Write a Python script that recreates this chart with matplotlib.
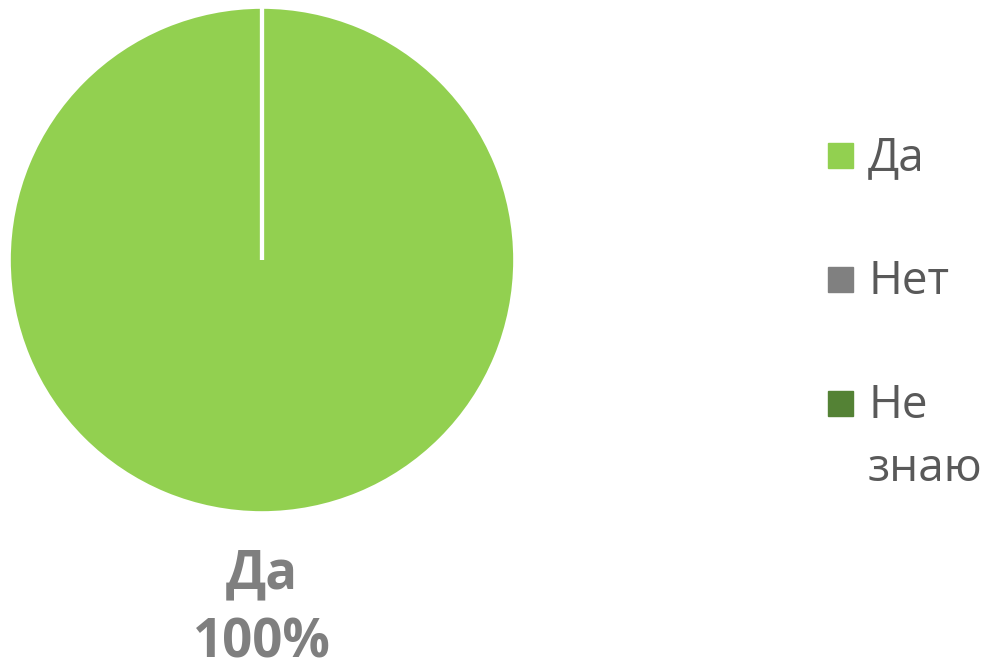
import matplotlib.pyplot as plt
from matplotlib.patches import Rectangle

# данные
categories = ["Да", "Нет", "Не знаю"]
values = [100, 0, 0]
colors = ["#92D050", "#808080", "#548235"]

W, H = 988, 671
plt.rcParams['font.family'] = ['Open Sans', 'DejaVu Sans']


def fx(x):
    return x / W


def fy(y):
    return 1 - y / H


fig = plt.figure(figsize=(W / 100, H / 100), dpi=100)

# круговая диаграмма
ax = fig.add_axes([fx(10), fy(512), 504 / W, 504 / H])
ax.pie(values, colors=colors, startangle=90, counterclock=False,
       radius=1, wedgeprops=dict(edgecolor="white", linewidth=3))
ax.set_xlim(-0.995, 0.995)
ax.set_ylim(-0.995, 0.995)
ax.set_aspect("equal")
ax.axis("off")

# подпись под кругом
total = sum(values)
top_label = categories[0]
top_pct = values[0] / total * 100
fig.text(fx(262), fy(588), top_label, ha="center", va="baseline",
         fontsize=38, fontweight="bold", color="#7F7F7F")
fig.text(fx(262), fy(657), f"{top_pct:.0f}%", ha="center", va="baseline",
         fontsize=38, fontweight="bold", color="#7F7F7F")

# легенда
item_y = [168, 292, 416]
for cat, col, y in zip(categories, colors, item_y):
    fig.patches.append(Rectangle((fx(828), fy(y)), 25 / W, 25 / H,
                                 transform=fig.transFigure, color=col))
    for i, word in enumerate(cat.split()):
        fig.text(fx(868), fy(y + 2 + i * 63), word, ha="left", va="baseline",
                 fontsize=33, color="#595959")

fig.savefig("out.png", dpi=100)
